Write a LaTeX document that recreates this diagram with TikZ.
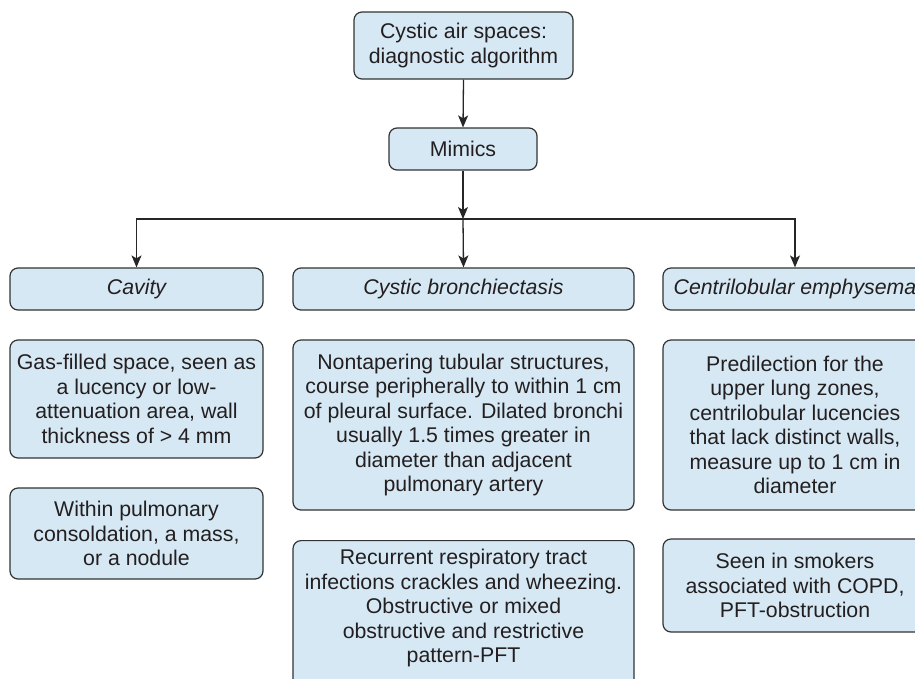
\documentclass[tikz,border=0pt]{standalone}
\usepackage{fontspec}
\setmainfont{Liberation Sans}
\usetikzlibrary{arrows.meta}
\definecolor{boxfill}{HTML}{D6E8F4}
\definecolor{boxline}{HTML}{333333}
\definecolor{inktext}{HTML}{231F20}
\tikzset{
  flowbox/.style={draw=boxline, fill=boxfill, line width=1.2pt, rounded corners=8pt,
    inner sep=0pt, align=center, text=inktext,
    font=\fontsize{21.3}{24.5}\selectfont},
  bodytext/.style={inner sep=0pt, align=center, text=inktext,
    font=\fontsize{21.3}{24.5}\selectfont},
  flowarrow/.style={draw=black!85, line width=1.3pt,
    -{Stealth[length=12pt,width=10pt,inset=3pt]}},
}
\begin{document}
\begin{tikzpicture}[x=1pt, y=-1pt]
\useasboundingbox (0,0) rectangle (915,678);
\clip (0,0) rectangle (915,678);

% top of the algorithm
\node[flowbox, minimum width=219, minimum height=67] (top) at (463.5,45.5)
  {Cystic air spaces:\\diagnostic algorithm};
\node[flowbox, minimum width=148, minimum height=42] (mimics) at (463,149) {Mimics};
\coordinate (split) at (463,219);

% the three mimics
\node[flowbox, minimum width=253, minimum height=42] (cavity) at (136.5,289) {\itshape Cavity};
\node[flowbox, minimum width=341, minimum height=42] (bronch) at (463.5,289) {\itshape Cystic bronchiectasis};
\node[flowbox, minimum width=264, minimum height=42] (emph) at (795,289) {\itshape Centrilobular emphysema};

% cavity column
\node[flowbox, minimum width=253, minimum height=118] (cav1) at (136.5,399)
  {Gas-filled space, seen as\\a lucency or low-\\attenuation area, wall\\thickness of > 4 mm};
\node[flowbox, minimum width=253, minimum height=91] (cav2) at (136.5,533.5)
  {Within pulmonary\\consoldation, a mass,\\or a nodule};

% bronchiectasis column
\node[flowbox, minimum width=341, minimum height=170] (br1) at (463.5,425)
  {Nontapering tubular structures,\\course peripherally to within 1 cm\\of pleural surface. Dilated bronchi\\usually 1.5 times greater in\\diameter than adjacent\\pulmonary artery};
\node[flowbox, minimum width=341, minimum height=160, anchor=north] (br2) at (463.5,540) {};
\node[bodytext] (br2text) at (463.5,608)
  {Recurrent respiratory tract\\infections crackles and wheezing.\\Obstructive or mixed\\obstructive and restrictive\\pattern-PFT};

% emphysema column
\node[flowbox, minimum width=264, minimum height=170] (em1) at (795,425)
  {Predilection for the\\upper lung zones,\\centrilobular lucencies\\that lack distinct walls,\\measure up to 1 cm in\\diameter};
\node[flowbox, minimum width=264, minimum height=93] (em2) at (795,585.5)
  {Seen in smokers\\associated with COPD,\\PFT-obstruction};

% connectors
\draw[flowarrow] (top.south) -- (mimics.north);
\draw[flowarrow] (mimics.south) -- (split);
\draw[flowarrow] (split) -- (bronch.north);
\draw[flowarrow] (split) -| (cavity.north);
\draw[flowarrow] (split) -| (emph.north);
\end{tikzpicture}
\end{document}
